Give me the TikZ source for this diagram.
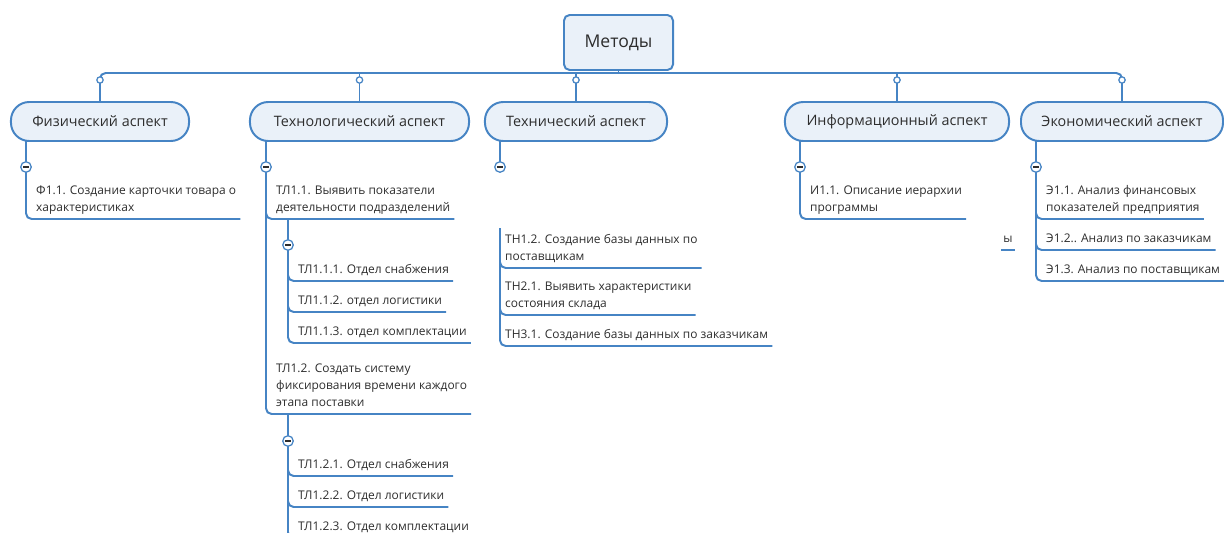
\documentclass[tikz,border=0pt]{standalone}
\usepackage{fontspec}
\setmainfont{Open Sans}
\definecolor{mapblue}{RGB}{70,132,196}
\definecolor{paleblue}{RGB}{234,241,249}
\definecolor{inkgray}{RGB}{45,45,45}
\usetikzlibrary{calc}

\begin{document}
\begin{tikzpicture}[x=0.025cm, y=-0.025cm,
    link/.style={draw=mapblue, line width=1.4pt, rounded corners=4pt},
    rootbox/.style={fill=paleblue, draw=mapblue, line width=1.4pt, rounded corners=4pt,
      minimum width=2.725cm, minimum height=1.375cm, inner sep=0pt,
      font=\fontsize{12.5}{15}\selectfont, text=inkgray},
    aspect/.style={fill=paleblue, draw=mapblue, line width=1.4pt, rounded corners=13pt,
      minimum height=0.975cm, inner sep=0pt, font=\fontsize{10.2}{12}\selectfont, text=inkgray},
    leaf/.style={anchor=south west, inner xsep=2.8pt, inner ysep=5.3pt, text depth=0pt,
      align=left, font=\fontsize{8.5}{12.1}\selectfont, text=inkgray},
    knob/.style={circle, draw=mapblue, fill=white, line width=0.9pt, inner sep=0pt, minimum size=4.5pt},
    fold/.style={circle, draw=mapblue, fill=white, line width=0.9pt, inner sep=0pt, minimum size=7.5pt,
      path picture={\draw[inkgray, line width=1pt]
        ([xshift=-2pt]path picture bounding box.center) -- ([xshift=2pt]path picture bounding box.center);}},
  ]
  \clip (0,0) rectangle (1224,533);

  % root and aspects
  \node[rootbox] (root) at (618.5,42.5) {Методы};
  \node[aspect, minimum width=4.45cm] (phys) at (100,121.5) {Физический аспект};
  \node[aspect, minimum width=5.475cm] (techno) at (359.5,121.5) {Технологический аспект};
  \node[aspect, minimum width=4.55cm] (tech) at (576,121.5) {Технический аспект};
  \node[aspect, minimum width=5.6cm] (info) at (897,121.5) {Информационный аспект};
  \node[aspect, minimum width=5.05cm] (econ) at (1122,121.5) {Экономический аспект};

  \coordinate (bus) at (0,73);
  \coordinate (knobs) at (0,80);
  \draw[link] (root.south) -- (root.south |- bus);
  \draw[link] (phys.north) |- (econ.north |- bus) -- (econ.north);
  \draw[link] (techno.north) -- (techno.north |- bus);
  \draw[link] (tech.north) -- (tech.north |- bus);
  \draw[link] (info.north) -- (info.north |- bus);
  \node[knob] (k1) at (phys.north |- knobs) {};
  \node[knob] (k2) at (techno.north |- knobs) {};
  \node[knob] (k3) at (tech.north |- knobs) {};
  \node[knob] (k4) at (info.north |- knobs) {};
  \node[knob] (k5) at (econ.north |- knobs) {};

  % physical
  \coordinate (s1) at (26,141);
  \node[leaf] (f11) at (32,219) {Ф1.1. Создание карточки товара о\\характеристиках};
  \draw[link] (s1) |- (f11.south east);
  \node[fold] (c1) at (26,167) {};

  % technological
  \coordinate (s2) at (266,141);
  \coordinate (s21) at (288,219);
  \coordinate (s22) at (288,414);
  \node[leaf] (tl11) at (272,219) {ТЛ1.1. Выявить показатели\\деятельности подразделений};
  \node[leaf] (tl111) at (294,281) {ТЛ1.1.1. Отдел снабжения};
  \node[leaf] (tl112) at (294,312) {ТЛ1.1.2. отдел логистики};
  \node[leaf] (tl113) at (294,343) {ТЛ1.1.3. отдел комплектации};
  \node[leaf] (tl12) at (272,414) {ТЛ1.2. Создать систему\\фиксирования времени каждого\\этапа поставки};
  \node[leaf] (tl121) at (294,476) {ТЛ1.2.1. Отдел снабжения};
  \node[leaf] (tl122) at (294,507) {ТЛ1.2.2. Отдел логистики};
  \node[leaf] (tl123) at (294,538) {ТЛ1.2.3. Отдел комплектации};
  \draw[link] (s2) |- (tl11.south east);
  \draw[link] (s2) |- (tl12.south east);
  \draw[link] (s21) |- (tl111.south east);
  \draw[link] (s21) |- (tl112.south east);
  \draw[link] (s21) |- (tl113.south east);
  \draw[link] (s22) |- (tl121.south east);
  \draw[link] (s22) |- (tl122.south east);
  \draw[link] (s22) |- (tl123.south east);
  \node[fold] (c2) at (266,167) {};
  \node[fold] (c21) at (288,245) {};
  \node[fold] (c22) at (288,441) {};

  % technical
  \coordinate (s3) at (500,141);
  \coordinate (s3end) at (500,167);
  \coordinate (s3b) at (500,228);
  \node[leaf] (tn12) at (501,268) {ТН1.2. Создание базы данных по\\поставщикам};
  \node[leaf] (tn21) at (501,315) {ТН2.1. Выявить характеристики\\состояния склада};
  \node[leaf] (tn31) at (501,346) {ТН3.1. Создание базы данных по заказчикам};
  \draw[link] (s3) -- (s3end);
  \draw[link] (s3b) |- (tn12.south east);
  \draw[link] (s3b) |- (tn21.south east);
  \draw[link] (s3b) |- (tn31.south east);
  \node[fold] (c3) at (s3end) {};

  % informational
  \coordinate (s4) at (800,141);
  \node[leaf] (i11) at (806,219) {И1.1. Описание иерархии\\программы};
  \draw[link] (s4) |- (i11.south east);
  \node[fold] (c4) at (800,167) {};
  \node[leaf, inner xsep=1.5pt] (frag) at (1001,250) {ы};
  \draw[link] (frag.south west) -- (frag.south east);

  % economic
  \coordinate (s5) at (1036,141);
  \node[leaf] (e11) at (1042,219) {Э1.1. Анализ финансовых\\показателей предприятия};
  \node[leaf] (e12) at (1042,250) {Э1.2.. Анализ по заказчикам};
  \node[leaf] (e13) at (1042,281) {Э1.3. Анализ по поставщикам};
  \draw[link] (s5) |- (e11.south east);
  \draw[link] (s5) |- (e12.south east);
  \draw[link] (s5) |- (e13.south east);
  \node[fold] (c5) at (1036,167) {};
\end{tikzpicture}
\end{document}
